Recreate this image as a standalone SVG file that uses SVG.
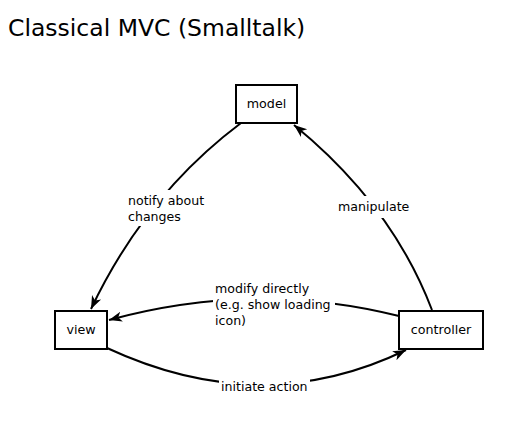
<svg xmlns="http://www.w3.org/2000/svg" width="518" height="422" viewBox="0 0 518 422">
<defs>
<style>
text{font-family:"DejaVu Sans","Liberation Sans",sans-serif;fill:#000}
.node rect{fill:#fff;stroke:#000;stroke-width:2}
.node text{font-size:12.7px;text-anchor:middle}
.edge path{fill:none;stroke:#000;stroke-width:2}
.lbl rect{fill:#fff;stroke:none}
.lbl text{font-size:12.6px}
.title{font-size:23.5px}
</style>
<marker id="arr" markerUnits="userSpaceOnUse" markerWidth="14" markerHeight="12" viewBox="0 0 14 12" refX="13" refY="6" orient="auto">
<path d="M0,1 L13,6 L0,11 L3.5,6 Z" fill="#000"/>
</marker>
</defs>
<rect width="518" height="422" fill="#fff"/>
<text class="title" x="8" y="36">Classical MVC (Smalltalk)</text>
<g id="connectors" class="edge">
<path id="e-notify" d="M241,123 Q145,195 91,309" marker-end="url(#arr)"/>
<path id="e-manipulate" d="M432,310 Q392,205 294,125" marker-end="url(#arr)"/>
<path id="e-modify" d="M399,316 Q255,280 109,320" marker-end="url(#arr)"/>
<path id="e-initiate" d="M107,348 Q262,420 406,350" marker-end="url(#arr)"/>
</g>
<g id="labels" class="lbl">
<g id="l-notify"><rect x="126" y="190" width="83" height="36"/><text x="128" y="205">notify about</text><text x="128" y="221">changes</text></g>
<g id="l-manipulate"><rect x="336" y="196" width="75" height="22"/><text x="338" y="211">manipulate</text></g>
<g id="l-modify"><rect x="213" y="278" width="122" height="52"/><text x="215" y="293">modify directly</text><text x="215" y="309">(e.g. show loading</text><text x="215" y="325">icon)</text></g>
<g id="l-initiate"><rect x="219" y="376" width="91" height="21"/><text x="221" y="391">initiate action</text></g>
</g>
<g id="model" class="node"><rect x="236" y="85" width="61" height="38"/><text x="266.5" y="108">model</text></g>
<g id="view" class="node"><rect x="55" y="311" width="52" height="38"/><text x="81" y="334">view</text></g>
<g id="controller" class="node"><rect x="399" y="311" width="84" height="38"/><text x="441" y="334">controller</text></g>
</svg>
